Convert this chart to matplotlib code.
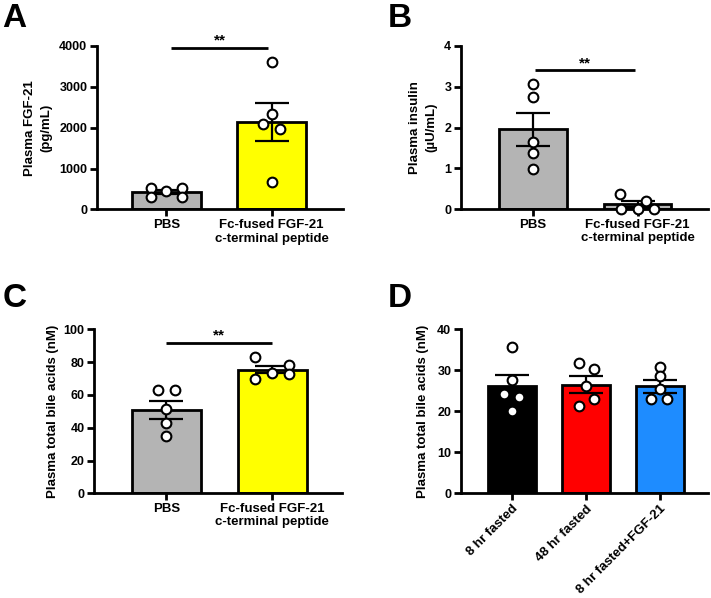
import numpy as np
import matplotlib
matplotlib.use("Agg")
import matplotlib.pyplot as plt

plt.rcParams['font.family'] = ['Liberation Sans', 'DejaVu Sans']
plt.rcParams['font.weight'] = 'bold'

# ---------------- data ----------------
a_groups = ["PBS", "Fc-fused FGF-21\nc-terminal peptide"]
a_pbs = [520, 310, 460, 520, 310]
a_fc = [3600, 2330, 2080, 1980, 680]

b_groups = ["PBS", "Fc-fused FGF-21\nc-terminal peptide"]
b_pbs = [3.06, 2.75, 1.66, 1.37, 0.98]
b_fc = [0.37, 0.20, 0.01, 0.01, 0.01]

c_groups = ["PBS", "Fc-fused FGF-21\nc-terminal peptide"]
c_pbs = [63.0, 63.0, 51.2, 42.7, 34.9]
c_fc = [82.9, 78.2, 73.5, 72.7, 69.7]

d_groups = ["8 hr fasted", "48 hr fasted", "8 hr fasted+FGF-21"]
d_8hr = [35.6, 27.6, 24.2, 23.6, 20.1]
d_48hr = [31.9, 30.3, 26.2, 22.9, 21.3]
d_fgf = [30.9, 28.6, 25.4, 22.9, 22.9]

# ---------------- style (point jitter offsets) ----------------
off_a = [[-0.15, -0.15, 0, 0.15, 0.15], [0, 0, -0.08, 0.08, 0]]
off_b = [[0, 0, 0, 0, 0], [-0.17, 0.08, -0.16, 0, 0.16]]
off_c = [[-0.08, 0.08, 0, 0, 0], [-0.16, 0.16, 0, 0.16, -0.16]]
off_d = [[0, 0, -0.115, 0.1, 0], [-0.1, 0.11, 0, 0.11, -0.1],
         [0, 0, 0, -0.12, 0.1]]

GRAY = "#b4b4b4"
YEL = "#ffff00"
RED = "#ff0000"
BLUE = "#1e8cff"

W, H = 711, 598
fig = plt.figure(figsize=(W / 100, H / 100), dpi=100)


def ax_at(x0, x1, ytop, ybot):
    return fig.add_axes([x0 / W, 1 - ybot / H, (x1 - x0) / W, (ybot - ytop) / H])


def panel(ax, groups, data, offs, colors, ylim, yticks, ylabel, xlim,
          rot=False, labelpad=4, lsp=1.2):
    x = np.arange(len(data))
    means = [np.mean(d) for d in data]
    sems = [np.std(d, ddof=1) / np.sqrt(len(d)) for d in data]
    ax.bar(x, means, width=0.65, color=colors, edgecolor='black',
           linewidth=2.0, zorder=2)
    ax.errorbar(x, means, yerr=sems, fmt='none', ecolor='black',
                elinewidth=1.6, capsize=12, capthick=1.6, zorder=3)
    for i, d in enumerate(data):
        ax.plot(x[i] + np.array(offs[i]), d, 'o', ms=7, mfc='white',
                mec='black', mew=1.5, zorder=4, clip_on=False)
    ax.set_xlim(*xlim)
    ax.set_ylim(*ylim)
    ax.set_yticks(yticks)
    ax.set_xticks(x)
    for s in ['top', 'right']:
        ax.spines[s].set_visible(False)
    for s in ['left', 'bottom']:
        ax.spines[s].set_linewidth(2.0)
    ax.tick_params(width=2.0, length=5, direction='out', labelsize=9.5,
                   pad=2)
    ax.tick_params(axis='y', labelsize=9)
    if rot:
        ax.set_xticklabels(groups, rotation=45, ha='right',
                           rotation_mode='anchor', fontsize=9.5,
                           fontweight='bold')
    else:
        ax.set_xticklabels(groups, fontsize=9.5, fontweight='bold',
                           linespacing=1.15)
    for lab in ax.get_yticklabels():
        lab.set_fontweight('bold')
    ax.set_ylabel(ylabel, fontsize=9.5, fontweight='bold', labelpad=labelpad,
                  linespacing=lsp)
    return x


def sig(ax, x0, x1, y, dy):
    ax.plot([x0, x1], [y, y], color='black', lw=2.0, clip_on=False,
            solid_capstyle='butt')
    ax.text((x0 + x1) / 2, y + dy, "**", ha='center', va='bottom',
            fontsize=11, fontweight='bold')


# A
axA = ax_at(97, 343, 46, 209.5)
panel(axA, a_groups, [a_pbs, a_fc], off_a, [GRAY, YEL], (0, 4000),
      [0, 1000, 2000, 3000, 4000], "Plasma FGF-21\n(pg/mL)", (-0.66, 1.68),
      labelpad=5, lsp=1.45)
sig(axA, 0.04, 0.97, 3960, 0)

# B
axB = ax_at(461, 708, 46, 209.3)
panel(axB, b_groups, [b_pbs, b_fc], off_b, [GRAY, GRAY], (0, 4),
      [0, 1, 2, 3, 4], "Plasma insulin\n(\u00b5U/mL)", (-0.69, 1.675),
      labelpad=5, lsp=1.45)
sig(axB, 0.02, 0.98, 3.4, 0.0)

# C
axC = ax_at(94.3, 342, 329.3, 493.3)
panel(axC, c_groups, [c_pbs, c_fc], off_c, [GRAY, YEL], (0, 100),
      [0, 20, 40, 60, 80, 100], "Plasma total bile acids (nM)", (-0.68, 1.66),
      labelpad=3)
sig(axC, 0.0, 1.0, 91.5, 0.5)

# D
axD = ax_at(461, 708, 329.3, 493.3)
panel(axD, d_groups, [d_8hr, d_48hr, d_fgf], off_d, ['black', RED, BLUE],
      (0, 40), [0, 10, 20, 30, 40], "Plasma total bile acids (nM)",
      (-0.69, 2.65), rot=True, labelpad=6)

# Panel letters
for lab, (px, py) in zip("ABCD", [(2, 3), (388, 3), (3, 283), (388, 283)]):
    fig.text(px / W, 1 - py / H, lab, fontsize=24, fontweight='bold',
             ha='left', va='top')

fig.savefig("out.png", dpi=100)
